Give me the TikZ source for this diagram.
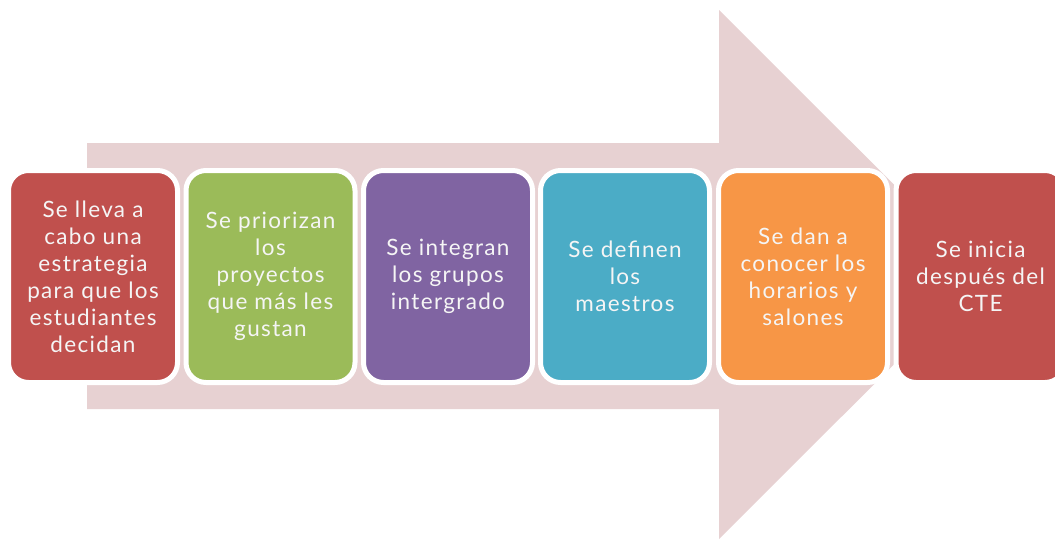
\documentclass[tikz,border=0pt]{standalone}
\usepackage{fontspec}
\setmainfont{Lato}[LetterSpace=6]
\usepackage{tikz}
\usetikzlibrary{positioning}
\definecolor{pasored}{HTML}{C0504D}
\definecolor{pasogreen}{HTML}{9BBB59}
\definecolor{pasopurple}{HTML}{8064A2}
\definecolor{pasoblue}{HTML}{4BACC6}
\definecolor{pasoorange}{HTML}{F79646}
\definecolor{flecha}{HTML}{E7D1D2}

\begin{document}
\begin{tikzpicture}[x=1pt,y=-1pt, paso/.style={draw=white,line width=5pt,rounded corners=20pt,minimum width=169pt,minimum height=212pt,inner sep=0pt,align=center,text=white!96!black,font=\fontsize{22.5}{27}\selectfont}]
              \useasboundingbox (0,0) rectangle (1055,539);
              \fill[flecha] (87,143) -- (719,143) -- (719,10) -- (984,274.5) -- (719,539) -- (719,409) -- (87,409) -- cycle;

              \node[paso,fill=pasored] (s1) at (93,276.5) {Se lleva a\\cabo una\\estrategia\\para que los\\estudiantes\\decidan};
              \node[paso,fill=pasogreen] (s2) at (270.5,276.5) {Se priorizan\\los\\proyectos\\que más les\\gustan};
              \node[paso,fill=pasopurple] (s3) at (448,276.5) {Se integran\\los grupos\\intergrado};
              \node[paso,fill=pasoblue] (s4) at (625,276.5) {Se definen\\los\\maestros};
              \node[paso,fill=pasoorange] (s5) at (803,276.5) {Se dan a\\conocer los\\horarios y\\salones};
              \node[paso,fill=pasored] (s6) at (980.5,276.5) {Se inicia\\después del\\CTE};
            \end{tikzpicture}
\end{document}
